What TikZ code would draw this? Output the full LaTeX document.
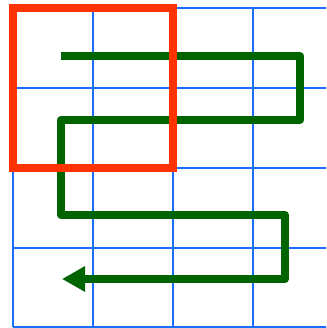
\documentclass[tikz,border=0pt]{standalone}
\usetikzlibrary{arrows.meta}
\definecolor{gridblue}{HTML}{1A6EFF}
\definecolor{pathgreen}{HTML}{006400}
\definecolor{boxred}{HTML}{FF3300}
\tikzset{
  gridline/.style={draw=gridblue, line width=2.2pt},
  snake/.style={draw=pathgreen, line width=8pt, line join=round, -{Triangle[length=23pt,width=24pt]}},
  frame/.style={draw=boxred, line width=8pt}
}
\begin{document}
\begin{tikzpicture}[x=1pt,y=-1pt]
\useasboundingbox (0,0) rectangle (326,328);
\begin{scope}
\clip (0,0) rectangle (326,328);
% grid
\foreach \x in {13,93,173,253} \draw[gridline] (\x,8) -- (\x,327);
\foreach \y in {8,88,168,248,327} \draw[gridline] (13,\y) -- (340,\y);
% path
\coordinate (s) at (61,56);
\coordinate (c1) at (300,56);
\coordinate (c2) at (300,120);
\coordinate (c3) at (61,120);
\coordinate (c4) at (61,215);
\coordinate (c5) at (285,215);
\coordinate (c6) at (285,279);
\coordinate (e) at (62,279);
\draw[snake] (s) -- (c1) -- (c2) -- (c3) -- (c4) -- (c5) -- (c6) -- (e);
% frame
\coordinate (fa) at (13,8);
\coordinate (fb) at (173,168);
\draw[frame] (fa) rectangle (fb);
\end{scope}
\end{tikzpicture}
\end{document}
